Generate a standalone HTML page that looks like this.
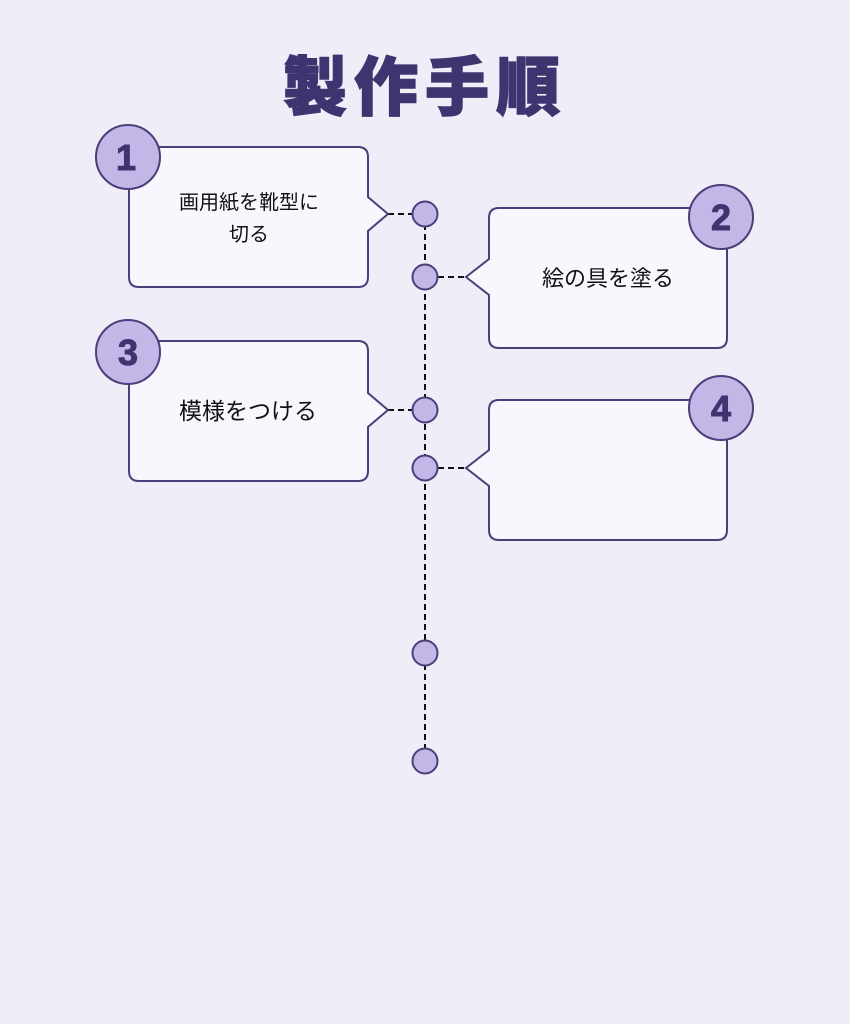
<!DOCTYPE html>
<html><head><meta charset="utf-8"><style>
html,body{margin:0;padding:0;background:#efedf7;}
svg{display:block}
</style></head><body>
<svg width="850" height="1024" viewBox="0 0 850 1024" xmlns="http://www.w3.org/2000/svg">
<rect width="850" height="1024" fill="#efedf7"/>
<text x="425" y="110" text-anchor="middle" font-family="'Noto Sans CJK JP',sans-serif" font-weight="900" font-size="64" letter-spacing="7" fill="#3f3470" stroke="#3f3470" stroke-width="1.5">製作手順</text>
<line x1="425" y1="214" x2="425" y2="761" stroke="#111" stroke-width="2" stroke-dasharray="6,4"/>
<g stroke="#111" stroke-width="2" stroke-dasharray="6,4">
<line x1="388" y1="214" x2="412" y2="214"/>
<line x1="438" y1="277" x2="466" y2="277"/>
<line x1="388" y1="410" x2="412" y2="410"/>
<line x1="438" y1="468" x2="466" y2="468"/>
</g>
<g fill="#f8f7fe" stroke="#4a3f7a" stroke-width="2">
<path d="M139,147 H358 Q368,147 368,157 V197 L388,214 L368,231 V277 Q368,287 358,287 H139 Q129,287 129,277 V157 Q129,147 139,147 Z"/>
<path d="M499,208 H717 Q727,208 727,218 V338 Q727,348 717,348 H499 Q489,348 489,338 V295 L466,277 L489,259 V218 Q489,208 499,208 Z"/>
<path d="M139,341 H358 Q368,341 368,351 V393 L388,410 L368,427 V471 Q368,481 358,481 H139 Q129,481 129,471 V351 Q129,341 139,341 Z"/>
<path d="M499,400 H717 Q727,400 727,410 V530 Q727,540 717,540 H499 Q489,540 489,530 V486 L466,468 L489,450 V410 Q489,400 499,400 Z"/>
</g>
<g fill="#c5b6e8" stroke="#4a3f7a" stroke-width="2">
<circle cx="425" cy="214" r="12.5"/>
<circle cx="425" cy="277" r="12.5"/>
<circle cx="425" cy="410" r="12.5"/>
<circle cx="425" cy="468" r="12.5"/>
<circle cx="425" cy="653" r="12.5"/>
<circle cx="425" cy="761" r="12.5"/>
<circle cx="128" cy="157" r="32"/>
<circle cx="721" cy="217" r="32"/>
<circle cx="128" cy="352" r="32"/>
<circle cx="721" cy="408" r="32"/>
</g>
<g font-family="'Liberation Sans',sans-serif" font-weight="bold" font-size="36" fill="#3f3470" stroke="#3f3470" stroke-width="1" text-anchor="middle">
<text x="126" y="170">1</text>
<text x="721" y="230">2</text>
<text x="128" y="365">3</text>
<text x="721" y="421">4</text>
</g>
<g font-family="'Liberation Sans','Noto Sans CJK JP',sans-serif" fill="#111" text-anchor="middle">
<text x="249" y="209" font-size="20">画用紙を靴型に</text>
<text x="249" y="241" font-size="20">切る</text>
<text x="608" y="286" font-size="22">絵の具を塗る</text>
<text x="248" y="419" font-size="23">模様をつける</text>
</g>
</svg>
</body></html>
